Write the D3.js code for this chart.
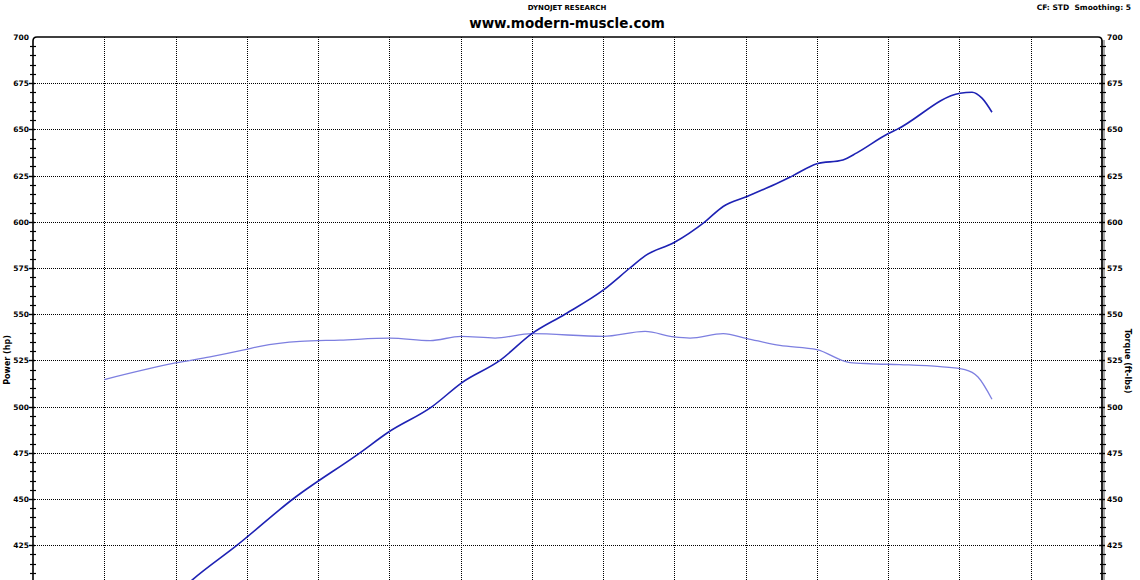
<!DOCTYPE html>
<html>
<head>
<meta charset="utf-8">
<script src="https://cdn.jsdelivr.net/npm/d3@7"></script>
<style>
  body { margin: 0; background: #fff; }
  svg { display: block; }
  text { font-family: "DejaVu Sans", Verdana, sans-serif; font-weight: bold; fill: #000; }
</style>
</head>
<body>
<svg id="chart" width="1140" height="580"></svg>
<script>
// values (rpm, hp / ft-lbs)
var powerRpm = [4000, 4061, 4216, 4412, 4647, 4745, 4900, 5005, 5138, 5250, 5366, 5500, 5594, 5647, 5749, 5857, 5921, 6005, 6120, 6166, 6250, 6341, 6390, 6499, 6531, 6752, 6794, 6829, 6864];
var powerHp  = [398, 406.5, 425, 450, 475, 486, 500, 513, 525, 539.5, 550, 563, 575, 581.6, 588.8, 600, 608.3, 613.7, 621.5, 625, 631.4, 633.5, 637.3, 647.6, 650, 669.6, 670.1, 666.9, 659.3];

var torqueRpm = [3750, 4000, 4121, 4244, 4296, 4437, 4577, 4752, 4893, 5001, 5121, 5250, 5500, 5647, 5749, 5805, 5921, 6005, 6120, 6250, 6366, 6436, 6541, 6682, 6769, 6815, 6864];
var torqueLbs = [514.6, 523.6, 526.9, 530.8, 532.6, 535.3, 536, 537, 535.7, 538, 537.1, 539.5, 538, 540.7, 537.7, 537.1, 539.5, 536.8, 533.1, 530.8, 523.8, 523.2, 522.7, 521.6, 520, 516, 504];

var yMajor = [675, 650, 625, 600, 575, 550, 525, 500, 475, 450, 425, 400];
var yLabels = [700, 675, 650, 625, 600, 575, 550, 525, 500, 475, 450, 425];
var xGrid = [3750, 4000, 4250, 4500, 4750, 5000, 5250, 5500, 5750, 6000, 6250, 6500, 6750, 7000];

var svg = d3.select("#chart");

var x = d3.scaleLinear().domain([3500, 7250]).range([33, 1102]);
var y = d3.scaleLinear().domain([700, 400]).range([37, 591.4]);

var pLeft = 33, pRight = 1102, pTop = 37, pBottom = 600;

// grid
var grid = svg.append("g").attr("stroke", "#000").attr("stroke-width", 1).attr("stroke-dasharray", "1,1");
grid.selectAll(".h").data(yMajor).enter().append("line")
  .attr("x1", pLeft).attr("x2", pRight)
  .attr("y1", function(d) { return Math.round(y(d)) + 0.5; })
  .attr("y2", function(d) { return Math.round(y(d)) + 0.5; });
grid.selectAll(".v").data(xGrid).enter().append("line")
  .attr("y1", pTop).attr("y2", pBottom)
  .attr("x1", function(d) { return Math.round(x(d)) + 0.5; })
  .attr("x2", function(d) { return Math.round(x(d)) + 0.5; });

// curves
var torqueData = torqueRpm.map(function(r, i) { return [r, torqueLbs[i]]; });
var powerData = powerRpm.map(function(r, i) { return [r, powerHp[i]]; });
var line = d3.line().x(function(d) { return x(d[0]); }).y(function(d) { return y(d[1]); }).curve(d3.curveMonotoneX);

svg.append("path").datum(torqueData).attr("d", line)
  .attr("fill", "none").attr("stroke", "#7d7fe0").attr("stroke-width", 1.3);
svg.append("path").datum(powerData).attr("d", line)
  .attr("fill", "none").attr("stroke", "#1e22b4").attr("stroke-width", 1.6);

// right axis band
svg.append("rect").attr("x", pRight - 1).attr("y", pTop + 3).attr("width", 4).attr("height", pBottom - pTop)
  .attr("fill", "#a8a8a8");

// frame: left axis + top with rounded corners
var r = 4;
svg.append("path")
  .attr("d", "M" + pLeft + "," + pBottom + " L" + pLeft + "," + (pTop + r) +
    " Q" + pLeft + "," + pTop + " " + (pLeft + r) + "," + pTop +
    " L" + (pRight - r) + "," + pTop +
    " Q" + pRight + "," + pTop + " " + pRight + "," + (pTop + r) +
    " L" + pRight + "," + pBottom)
  .attr("fill", "none").attr("stroke", "#000").attr("stroke-width", 1.6);

// minor ticks every 5
var minor = d3.range(405, 700, 5).filter(function(v) { return v % 25 != 0; });
[pLeft, pRight + 1].forEach(function(ax) {
  svg.append("g").selectAll("line").data(minor).enter().append("line")
    .attr("x1", ax - 3).attr("x2", ax + 3)
    .attr("y1", function(d) { return Math.round(y(d)) + 0.5; })
    .attr("y2", function(d) { return Math.round(y(d)) + 0.5; })
    .attr("stroke", "#000").attr("stroke-width", 1.2);
  svg.append("g").selectAll("line").data(yMajor).enter().append("line")
    .attr("x1", ax - 4).attr("x2", ax + 2)
    .attr("y1", function(d) { return Math.round(y(d)) + 0.5; })
    .attr("y2", function(d) { return Math.round(y(d)) + 0.5; })
    .attr("stroke", "#000").attr("stroke-width", 1.4);
});

// tick labels
var leftAxis = d3.axisLeft(y).tickValues(yLabels).tickSize(0).tickPadding(4);
var gl = svg.append("g").attr("transform", "translate(" + pLeft + ",0)").call(leftAxis);
gl.select(".domain").remove();
gl.selectAll("text").style("font-size", "7.5px").style("font-family", "DejaVu Sans").style("font-weight", "bold");

var rightAxis = d3.axisRight(y).tickValues(yLabels).tickSize(0).tickPadding(5);
var gr = svg.append("g").attr("transform", "translate(" + pRight + ",0)").call(rightAxis);
gr.select(".domain").remove();
gr.selectAll("text").style("font-size", "7.5px").style("font-family", "DejaVu Sans").style("font-weight", "bold");

// titles
svg.append("text").attr("x", 567).attr("y", 10).attr("text-anchor", "middle")
  .style("font-size", "7px").text("DYNOJET RESEARCH");
svg.append("text").attr("x", 567).attr("y", 28).attr("text-anchor", "middle")
  .style("font-size", "13.5px").text("www.modern-muscle.com");
svg.append("text").attr("x", 1131).attr("y", 10).attr("text-anchor", "end")
  .style("font-size", "7.5px").attr("xml:space", "preserve").text("CF: STD  Smoothing: 5");

svg.append("text").attr("transform", "translate(10,360) rotate(-90)").attr("text-anchor", "middle")
  .style("font-size", "8px").text("Power (hp)");
svg.append("text").attr("transform", "translate(1125,361) rotate(90)").attr("text-anchor", "middle")
  .style("font-size", "8px").text("Torque (ft-lbs)");
</script>
</body>
</html>
